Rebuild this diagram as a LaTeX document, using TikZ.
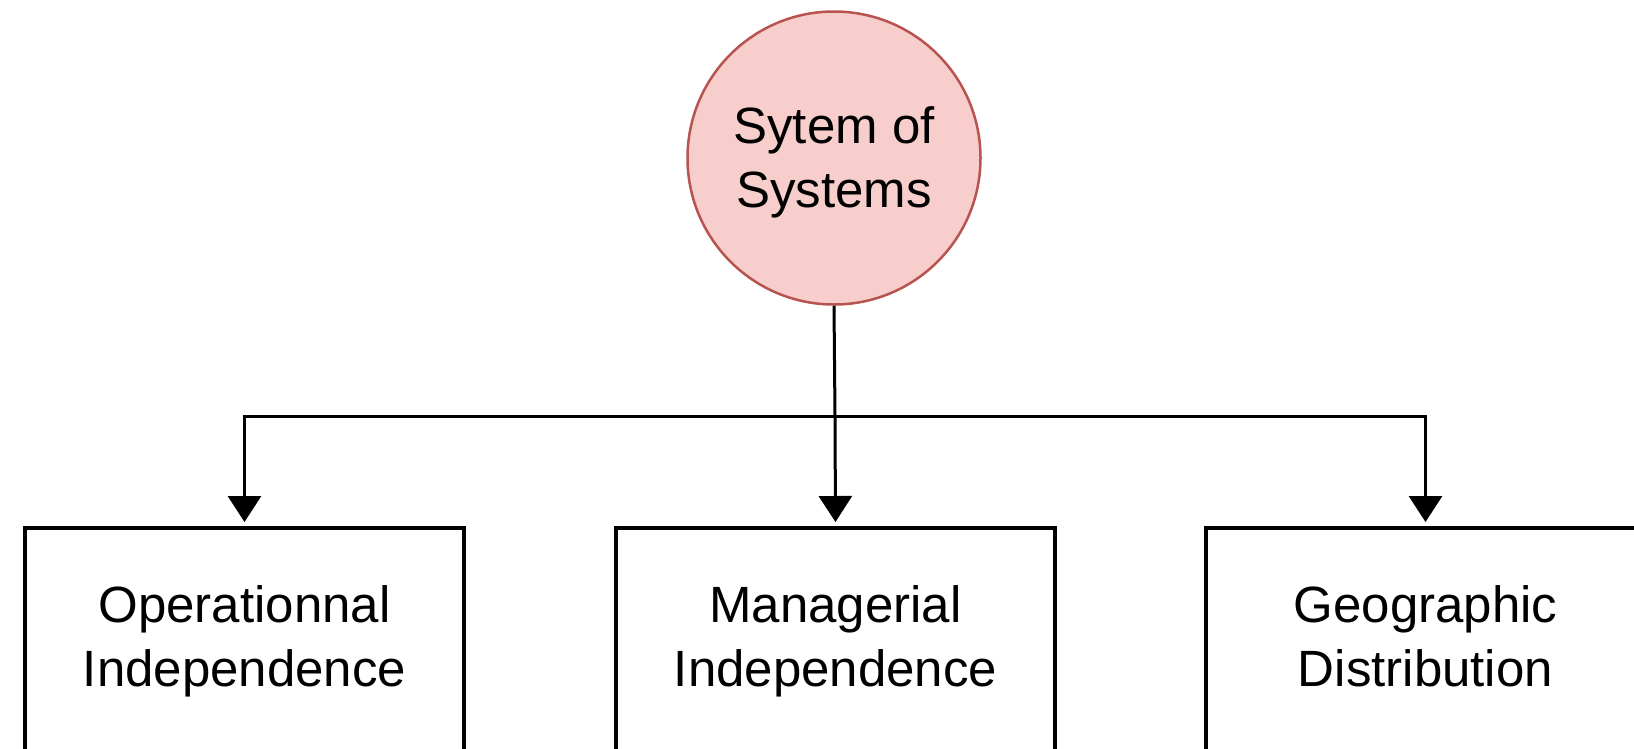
\documentclass[tikz,border=0pt]{standalone}
\usepackage{fontspec}
\setmainfont{Liberation Sans}
\usetikzlibrary{arrows.meta}
\definecolor{rootfill}{HTML}{F8CECC}
\definecolor{rootdraw}{HTML}{B85450}
% fixed line boxes so that every label sits at the same height
\newcommand{\topline}[1]{\rule{0pt}{#1}}
\newcommand{\botline}[1]{\rule[-#1]{0pt}{#1}}
\begin{document}
\begin{tikzpicture}[x=1pt,y=-1pt,
  lbl/.style={font=\fontsize{51}{64}\selectfont, align=center, text=black},
  rootnode/.style={lbl, circle, fill=rootfill, draw=rootdraw, line width=2.5pt,
    minimum size=293pt, inner sep=0pt},
  leaf/.style={lbl, rectangle, fill=white, draw=black, line width=4pt,
    minimum width=439pt, minimum height=226pt, inner sep=0pt},
  conn/.style={draw=black, line width=3pt},
  arrow/.style={conn, -{Triangle[length=26pt,width=33pt]}, shorten >=4pt}]
  \useasboundingbox (0,0) rectangle (1634,748);
  \fill[white] (0,0) rectangle (1634,748);
  \clip (0,0) rectangle (1634,748);

  % top concept
  \node[rootnode] (root) at (834,158)
    {\topline{45pt}Sytem of\\Systems\botline{10pt}};

  % three characteristics
  \node[leaf] (b1) at (244.5,641)
    {\topline{45pt}Operationnal\\Independence\botline{19pt}};
  \node[leaf] (b2) at (835.5,641)
    {\topline{45pt}Managerial\\Independence\botline{19pt}};
  \node[leaf] (b3) at (1425.5,641)
    {\topline{45pt}Geographic\\Distribution\botline{19pt}};

  % branching point of the tree
  \coordinate (j) at (835,416);

  \draw[conn] (root.south) -- (j);
  \draw[arrow] (j) -| (b1.north);
  \draw[arrow] (j) -| (b3.north);
  \draw[arrow] (j) -- (b2.north);
\end{tikzpicture}
\end{document}
